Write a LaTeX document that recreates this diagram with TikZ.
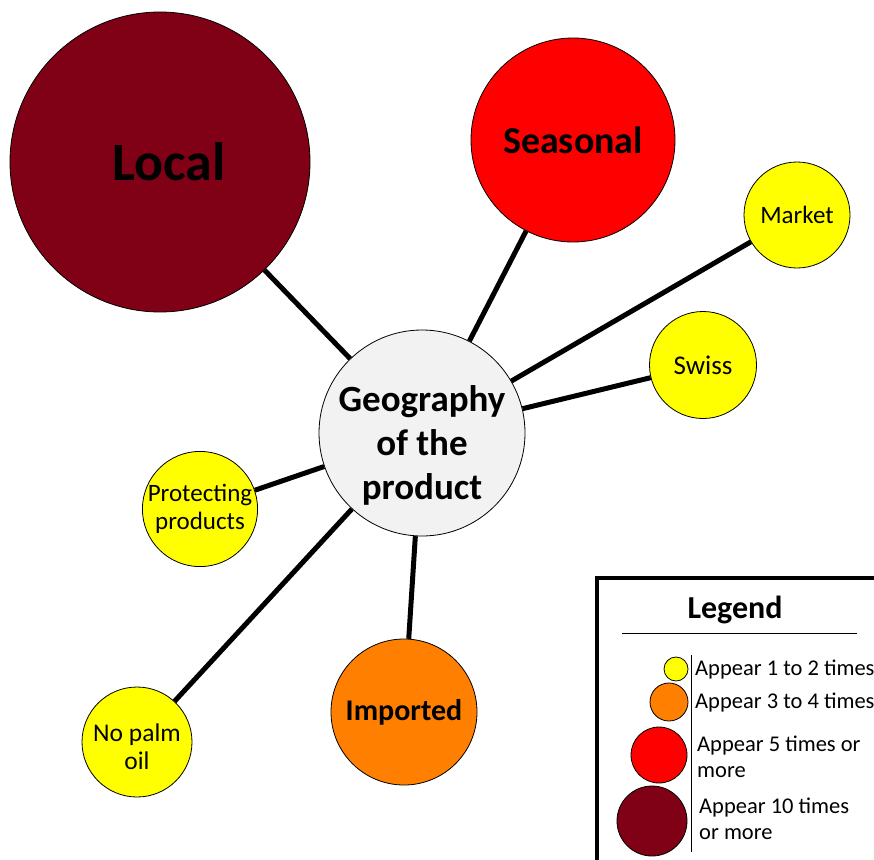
\documentclass[tikz,border=0pt]{standalone}
\usepackage{fontspec}
\setmainfont{Carlito}
\definecolor{deepred}{RGB}{128,0,22}
\definecolor{brightred}{RGB}{255,0,0}
\definecolor{amber}{RGB}{255,128,0}
\definecolor{lemon}{RGB}{255,255,0}
\definecolor{hubfill}{RGB}{242,242,242}
\begin{document}
\begin{tikzpicture}[x=1pt,y=-1pt,
  bub/.style={circle,draw=black,line width=0.8pt,inner sep=0pt,align=center,text=black},
  inlabel/.style={align=center,text=black,inner sep=0pt},
  link/.style={line width=5pt},
  keydot/.style={circle,draw=black,line width=0.8pt,inner sep=0pt},
  keytext/.style={anchor=west,align=left,font=\fontsize{22.5}{26}\selectfont,inner sep=0pt}]
\useasboundingbox (0,0) rectangle (874,859);

% bubbles (text that sits off-centre is set as a centred label with a shift)
\node[bub,fill=deepred,minimum size=300pt,
  label={[inlabel,xshift=9pt,font=\bfseries\fontsize{54}{58}\selectfont]center:Local}] (loc) at (160,162) {};
\node[bub,fill=brightred,minimum size=204pt,font=\bfseries\fontsize{38}{42}\selectfont] (sea) at (573,140) {Seasonal};
\node[bub,fill=lemon,minimum size=106pt,font=\fontsize{25}{28}\selectfont] (mkt) at (797,215) {Market};
\node[bub,fill=lemon,minimum size=107pt,font=\fontsize{27}{30}\selectfont] (swi) at (703,365) {Swiss};
\node[bub,fill=hubfill,minimum size=206pt,
  label={[inlabel,yshift=-12pt,font=\bfseries\fontsize{37}{44}\selectfont]center:Geography\\of the\\product}] (geo) at (422,433) {};
\node[bub,fill=lemon,minimum size=108pt,font=\fontsize{25}{28}\selectfont] (pro) at (200,509) {Protecting\\products};
\node[bub,fill=lemon,minimum size=110pt,
  label={[inlabel,yshift=-5pt,font=\fontsize{25.5}{28}\selectfont]center:No palm\\oil}] (pal) at (137,742) {};
\node[bub,fill=amber,minimum size=146pt,font=\bfseries\fontsize{30}{34}\selectfont] (imp) at (404,712) {Imported};

% spokes
\draw[link] (loc) -- (geo);
\draw[link] (sea) -- (geo);
\draw[link] (mkt) -- (geo);
\draw[link] (swi) -- (geo);
\draw[link] (pro) -- (geo);
\draw[link] (pal) -- (geo);
\draw[link] (imp) -- (geo);

% legend
\begin{scope}
\clip (0,0) rectangle (874,859);
\draw[line width=4pt,fill=white] (597,578) rectangle (890,880);
\node[font=\bfseries\fontsize{32}{36}\selectfont] (lt) at (735,610) {Legend};
\draw[line width=1pt] (622,633) -- (857,633);
\draw[line width=1pt] (691,655) -- (691,852);
\node[keydot,fill=lemon,minimum size=24pt] (k1) at (676,669) {};
\node[keydot,fill=amber,minimum size=38pt] (k2) at (669,702) {};
\node[keydot,fill=brightred,minimum size=56pt] (k3) at (659,755) {};
\node[keydot,fill=deepred,minimum size=70pt] (k4) at (652,821) {};
\node[keytext] (t1) at (695,670) {Appear 1 to 2 times};
\node[keytext] (t2) at (695,703) {Appear 3 to 4 times};
\node[keytext] (t3) at (697,757) {Appear 5 times or\\more};
\node[keytext] (t4) at (699,819) {Appear 10 times\\or more};
\end{scope}
\end{tikzpicture}
\end{document}
